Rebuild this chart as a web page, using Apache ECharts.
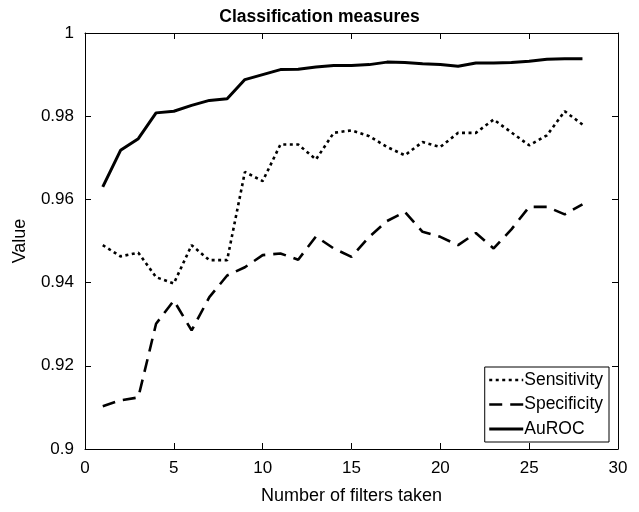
<!DOCTYPE html>
<html><head><meta charset="utf-8">
<script src="https://cdn.jsdelivr.net/npm/echarts@6/dist/echarts.min.js"></script>
<style>html,body{margin:0;padding:0;background:#fff}#c{width:639px;height:512px}</style>
</head><body><div id="c"></div>
<script>
const filters = [1,2,3,4,5,6,7,8,9,10,11,12,13,14,15,16,17,18,19,20,21,22,23,24,25,26,27,28];
const sensitivity = [0.949,0.9463,0.9472,0.9413,0.9398,0.949,0.9454,0.9454,0.9666,0.9644,0.9732,0.9732,0.9696,0.976,0.9766,0.9752,0.9726,0.9706,0.9738,0.9726,0.976,0.976,0.9792,0.9761,0.973,0.9754,0.9812,0.978];
const specificity = [0.9103,0.9117,0.9124,0.9301,0.9357,0.9285,0.9365,0.9417,0.9437,0.9466,0.947,0.9455,0.9511,0.9482,0.9462,0.951,0.9548,0.957,0.9522,0.951,0.949,0.9519,0.9482,0.9528,0.9582,0.9582,0.9564,0.9588];
const auroc = [0.963,0.9718,0.9746,0.9808,0.9812,0.9826,0.9838,0.9842,0.9888,0.99,0.9912,0.9913,0.9918,0.9922,0.9922,0.9924,0.993,0.9929,0.9926,0.9924,0.992,0.9928,0.9928,0.9929,0.9932,0.9937,0.9938,0.9938];
const seriesNames = ['Sensitivity','Specificity','AuROC'];

const F = 'Liberation Sans, Arial, Helvetica, sans-serif';
const chart = echarts.init(document.getElementById('c'));
const pair = a => filters.map((x,i)=>[x,a[i]]);
const axisCommon = {
  axisLine:{show:true,onZero:false,lineStyle:{color:'#000',width:1}},
  axisTick:{show:true,inside:true,length:6,lineStyle:{color:'#000'}},
  splitLine:{show:false},
  axisLabel:{color:'#000',fontFamily:F,fontSize:17,margin:11}
};
chart.setOption({
  animation:false,
  title:{text:'Classification measures',left:'center',top:3,textStyle:{fontFamily:F,fontWeight:'bold',fontSize:17.5,color:'#000'}},
  grid:{left:85,right:21,top:33,bottom:63,containLabel:false},
  xAxis:[
    Object.assign({type:'value',min:0,max:30,interval:5,name:'Number of filters taken',nameLocation:'middle',nameGap:38,
      nameTextStyle:{fontFamily:F,fontSize:18,color:'#000'}},axisCommon),
    Object.assign({type:'value',position:'top',min:0,max:30,interval:5},axisCommon,{axisLabel:{show:false}})
  ],
  yAxis:[
    Object.assign({type:'value',min:0.9,max:1,interval:0.02,name:'Value',nameLocation:'middle',nameGap:56,
      nameTextStyle:{fontFamily:F,fontSize:18,color:'#000'}},axisCommon),
    Object.assign({type:'value',position:'right',min:0.9,max:1,interval:0.02},axisCommon,{axisLabel:{show:false}})
  ],
  legend:{
    right:30,bottom:70,orient:'vertical',itemGap:6.5,itemWidth:34,itemHeight:18,
    backgroundColor:'#fff',borderColor:'#000',borderWidth:1,borderRadius:0,padding:[4,6,4,3],
    textStyle:{fontFamily:F,fontSize:17.5,color:'#000',padding:[0,0,0,-4]},
    itemStyle:{opacity:0},
    data:[
      {name:seriesNames[0],lineStyle:{width:2.6}},
      {name:seriesNames[1],lineStyle:{width:2.6}},
      {name:seriesNames[2],lineStyle:{width:3}}
    ]
  },
  series:[
    {name:seriesNames[0],type:'line',data:pair(sensitivity),symbol:'none',lineStyle:{color:'#000',width:2.6,type:[3,3.5]},itemStyle:{color:'#000'}},
    {name:seriesNames[1],type:'line',data:pair(specificity),symbol:'none',lineStyle:{color:'#000',width:2.6,type:[13,8]},itemStyle:{color:'#000'}},
    {name:seriesNames[2],type:'line',data:pair(auroc),symbol:'none',lineStyle:{color:'#000',width:3,type:'solid'},itemStyle:{color:'#000'}}
  ]
});
</script></body></html>
